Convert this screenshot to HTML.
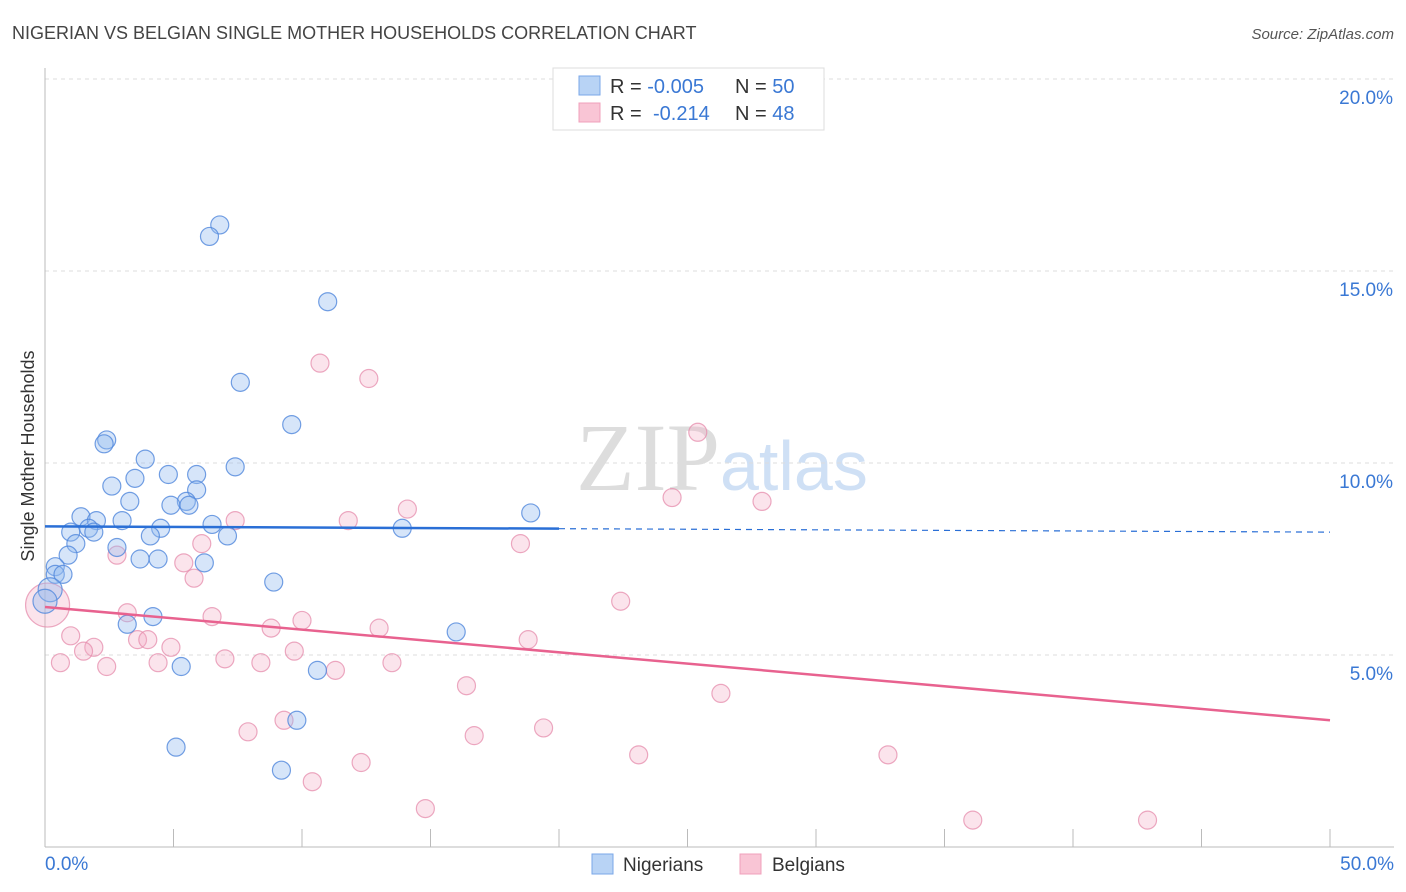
<!DOCTYPE html>
<html><head><meta charset="utf-8"><style>
body{margin:0;background:#fff;font-family:"Liberation Sans",sans-serif}
svg{display:block}
</style></head><body>
<svg id="c" width="1406" height="892">
<text x="12" y="39" font-size="18" fill="#444">NIGERIAN VS BELGIAN SINGLE MOTHER HOUSEHOLDS CORRELATION CHART</text>
<text x="1394" y="39" font-size="15" font-style="italic" fill="#555" text-anchor="end">Source: ZipAtlas.com</text>
<text x="720" y="490" font-size="96" font-family="Liberation Serif" fill="#ddd" text-anchor="end">ZIP</text>
<text x="720" y="490" font-size="70" fill="#cfe0f5">atlas</text>
<text transform="translate(34,456) rotate(-90)" font-size="18" fill="#333" text-anchor="middle">Single Mother Households</text>
<g id="grid"></g><g id="pts"></g><g id="lines"></g>
<g>
<rect x="553" y="68" width="271" height="62" fill="#fff" stroke="#ddd"/>
<rect x="579" y="76" width="21" height="19" fill="#b8d3f5" stroke="#7aa7e8"/>
<rect x="579" y="103" width="21" height="19" fill="#f9c5d5" stroke="#f0a0bb"/>
<text x="610" y="93" font-size="20" fill="#333">R = <tspan fill="#3a78d4">-0.005</tspan><tspan x="735">N = </tspan><tspan fill="#3a78d4">50</tspan></text>
<text x="610" y="120" font-size="20" fill="#333">R = <tspan x="653" fill="#3a78d4">-0.214</tspan><tspan x="735">N = </tspan><tspan fill="#3a78d4">48</tspan></text>
</g>
<g>
<rect x="592" y="854" width="21" height="20" fill="#b8d3f5" stroke="#7aa7e8"/>
<text x="623" y="871" font-size="19" fill="#333">Nigerians</text>
<rect x="740" y="854" width="21" height="20" fill="#f9c5d5" stroke="#f0a0bb"/>
<text x="772" y="871" font-size="19" fill="#333">Belgians</text>
</g>
</svg>
<script>
const yTicks=[5,10,15,20];
const xTickLabels=["0.0%","50.0%"];
const blueX=[6.8,6.4,11.0,7.6,9.6,2.4,2.3,3.9,7.4,4.8,5.9,3.5,2.6,5.9,3.3,5.5,4.9,5.6,1.4,2.0,3.0,6.5,1.7,4.5,1.0,1.9,4.1,7.1,1.2,2.8,0.9,3.7,4.4,6.2,0.4,0.4,0.7,8.9,0.2,0.0,4.2,3.2,16.0,5.3,10.6,9.8,5.1,9.2,13.9,18.9];
const blueY=[16.2,15.9,14.2,12.1,11.0,10.6,10.5,10.1,9.9,9.7,9.7,9.6,9.4,9.3,9.0,9.0,8.9,8.9,8.6,8.5,8.5,8.4,8.3,8.3,8.2,8.2,8.1,8.1,7.9,7.8,7.6,7.5,7.5,7.4,7.3,7.1,7.1,6.9,6.7,6.4,6.0,5.8,5.6,4.7,4.6,3.3,2.6,2.0,8.3,8.7];
const pinkX=[10.7,12.6,25.4,24.4,27.9,14.1,7.4,11.8,18.5,6.1,2.8,5.4,5.8,22.4,3.2,6.5,10.0,1.0,3.6,4.0,1.9,13.0,8.8,4.9,1.5,9.7,7.0,0.6,4.4,2.4,8.4,11.3,13.5,18.8,16.4,26.3,7.9,9.3,16.7,19.4,23.1,32.8,12.3,10.4,14.8,36.1,42.9,0.1];
const pinkY=[12.6,12.2,10.8,9.1,9.0,8.8,8.5,8.5,7.9,7.9,7.6,7.4,7.0,6.4,6.1,6.0,5.9,5.5,5.4,5.4,5.2,5.7,5.7,5.2,5.1,5.1,4.9,4.8,4.8,4.7,4.8,4.6,4.8,5.4,4.2,4.0,3.0,3.3,2.9,3.1,2.4,2.4,2.2,1.7,1.0,0.7,0.7,6.3];
const blueFit=[8.35,8.2];
const pinkFit=[6.25,3.3];
const X=v=>45+v/50*1285, Y=v=>847-v*38.4;
const NS="http://www.w3.org/2000/svg";
function mk(t,a,p){const e=document.createElementNS(NS,t);for(const k in a)e.setAttribute(k,a[k]);p.appendChild(e);return e;}
const g=document.getElementById('grid');
yTicks.forEach(t=>{
 const l=mk('line',{x1:45,x2:1394,y1:Y(t),y2:Y(t),stroke:'#ddd','stroke-dasharray':'4,4'},g);
 
 
 const tx=mk('text',{x:1393,y:Y(t)+25,'font-size':19,fill:'#3a78d4','text-anchor':'end'},g);
 tx.textContent=t.toFixed(1)+'%';
 
 
});
mk('line',{x1:45,x2:45,y1:68,y2:847,stroke:'#bbb'},g);
mk('line',{x1:45,x2:1394,y1:847,y2:847,stroke:'#bbb'},g);
for(let i=0;i<=10;i++){const x=X(i*5);mk('line',{x1:x,x2:x,y1:829,y2:847,stroke:'#bbb'},g);}
xTickLabels.forEach((s,i)=>{
 const tx=mk('text',{x:i?1394:45,y:870,'font-size':19,fill:'#3a78d4','text-anchor':i?'end':'start'},g);
 tx.textContent=s;
 
 
});
const p=document.getElementById('pts');
pinkX.forEach((v,i)=>{
 const big=i===pinkX.length-1;
 const c=mk('circle',{cx:X(v),cy:Y(pinkY[i]),r:big?22:9,fill:'rgba(244,170,195,0.32)',stroke:'rgba(230,140,172,0.75)','stroke-width':1.2},p);
 
 
});
blueX.forEach((v,i)=>{
 const c=mk('circle',{cx:X(v),cy:Y(blueY[i]),r:(i===38||i===39)?12:9,fill:'rgba(147,187,240,0.38)',stroke:'rgba(80,135,220,0.8)','stroke-width':1.2},p);
 
 
});
const L=document.getElementById('lines');
const bm=v=>blueFit[0]+(blueFit[1]-blueFit[0])*v/50;
const b1=mk('line',{x1:X(0),y1:Y(bm(0)),x2:X(20),y2:Y(bm(20)),stroke:'#2a6fd6','stroke-width':2.5},L);


const b2=mk('line',{x1:X(20),y1:Y(bm(20)),x2:X(50),y2:Y(bm(50)),stroke:'#2a6fd6','stroke-width':1.2,'stroke-dasharray':'6,5'},L);


const pl=mk('line',{x1:X(0),y1:Y(pinkFit[0]),x2:X(50),y2:Y(pinkFit[1]),stroke:'#e8628f','stroke-width':2.5},L);


</script>
</body></html>
